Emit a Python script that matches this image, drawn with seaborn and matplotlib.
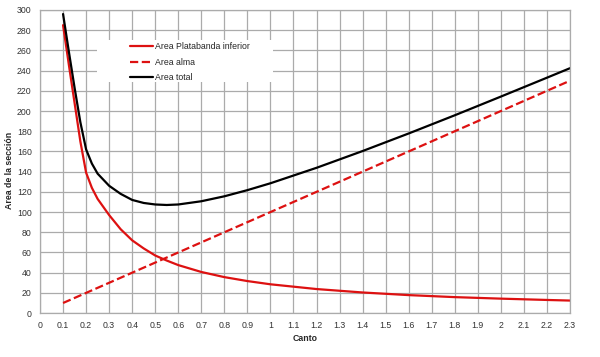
import numpy as np
import pandas as pd
import matplotlib
matplotlib.use("Agg")
import matplotlib.pyplot as plt
from matplotlib.patches import Rectangle
import seaborn as sns

# Values
canto = [0.1, 0.125, 0.15, 0.175, 0.2, 0.225, 0.25, 0.3, 0.35, 0.4, 0.45, 0.5, 0.55, 0.6,
         0.7, 0.8, 0.9, 1.0, 1.2, 1.4, 1.6, 1.8, 2.0, 2.2, 2.3]
area_platabanda = [285, 246, 208, 170, 139, 124, 113, 97, 83, 72, 64, 57, 52, 47.5,
                   40.7, 35.6, 31.7, 28.5, 23.8, 20.4, 17.8, 15.8, 14.3, 13.0, 12.4]
area_alma = [10, 12.5, 15, 17.5, 20, 22.5, 25, 30, 35, 40, 45, 50, 55, 60,
             70, 80, 90, 100, 120, 140, 160, 180, 200, 220, 230]
area_total = [296, 259, 223, 189, 162, 148, 138, 126, 118, 112, 109, 107.5, 107, 107.5,
              110.7, 115.6, 121.7, 128.5, 143.8, 160.4, 177.8, 195.8, 214.3, 233.0, 242.4]

labels = ["Area Platabanda inferior", "Area alma", "Area total"]
colors = ["#DD1111", "#DD1111", "#000000"]
styles = ["-", "--", "-"]

df = pd.DataFrame({"Canto": canto, labels[0]: area_platabanda,
                   labels[1]: area_alma, labels[2]: area_total})

sns.set_style("white")
plt.rcParams["font.family"] = ["Liberation Sans", "DejaVu Sans"]

fig = plt.figure(figsize=(6.0, 3.57), dpi=100)
ax = fig.add_axes([0.0667, 0.123, 0.8833, 0.849])

for lab, col, ls in zip(labels, colors, styles):
    sns.lineplot(data=df, x="Canto", y=lab, ax=ax, color=col, linestyle=ls,
                 linewidth=1.6, label=lab)

ax.set_xlim(0, 2.3)
ax.set_ylim(0, 300)
ax.set_xticks(np.round(np.arange(0, 2.31, 0.1), 1))
ax.set_yticks(np.arange(0, 301, 20))
ax.xaxis.set_major_formatter(matplotlib.ticker.FuncFormatter(lambda v, p: f"{v:g}"))
ax.grid(True, color="#ABABAB", linewidth=0.9)
ax.set_axisbelow(True)
for s in ax.spines.values():
    s.set_color("#ABABAB")
    s.set_linewidth(0.9)
ax.tick_params(axis="both", labelsize=6.3, length=3, color="#ABABAB", pad=3,
               labelcolor="#333333")

ax.set_xlabel("Canto", fontsize=6.3, fontweight="bold")
ax.set_ylabel("Area de la sección", fontsize=6.3, fontweight="bold")
ax.xaxis.set_label_coords(0.5, -0.07)
ax.yaxis.set_label_coords(-0.05, 0.47)

# white legend area like the reference
ax.add_patch(Rectangle((0.1075, 0.762), 0.332, 0.139, transform=ax.transAxes,
                       facecolor="white", edgecolor="none", zorder=2.5))
leg = ax.legend(loc="upper left", bbox_to_anchor=(0.163, 0.905), fontsize=6.3,
                frameon=False, handlelength=2.6, labelspacing=0.72,
                handletextpad=0.3, borderaxespad=0, borderpad=0.4)
leg.set_zorder(3)

fig.savefig("out.png", dpi=100)
